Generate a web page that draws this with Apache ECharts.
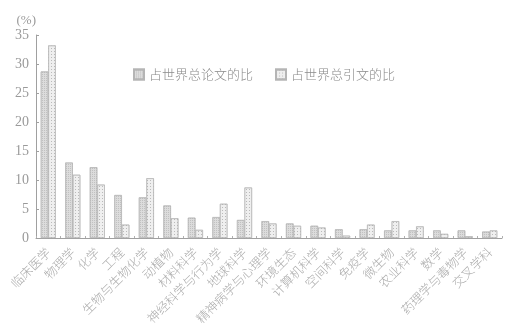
<!DOCTYPE html>
<html><head><meta charset="utf-8">
<script src="https://cdn.jsdelivr.net/npm/echarts@6/dist/echarts.min.js"></script>
<style>html,body{margin:0;padding:0;background:#fff}#c{width:522px;height:331px}</style>
</head><body><div id="c"></div>
<script>
var categories = ['临床医学','物理学','化学','工程','生物与生物化学','动植物','材料科学','神经科学与行为学','地球科学','精神病学与心理学','环境生态','计算机科学','空间科学','免疫学','微生物','农业科学','数学','药理学与毒物学','交叉学科'];
var seriesNames = ['占世界总论文的比','占世界总引文的比'];
var paperShare = [28.7,13.0,12.2,7.4,7.0,5.6,3.5,3.6,3.1,2.9,2.5,2.1,1.5,1.5,1.3,1.3,1.3,1.3,1.1];
var citeShare = [33.2,10.9,9.2,2.3,10.3,3.4,1.4,5.9,8.7,2.5,2.1,1.8,0.4,2.3,2.9,2.0,0.7,0.3,1.3];
var yTicks = [0,5,10,15,20,25,30,35];

var chart = echarts.init(document.getElementById('c'));
var gray = '#9a9a9a';
var serif = '"Liberation Serif","DejaVu Serif",serif';
var cjk = '"Noto Sans CJK SC","Noto Sans",sans-serif';
chart.setOption({
  animation: false,
  backgroundColor: '#fff',
  grid: {left: 36, right: 20, top: 35, bottom: 93, containLabel: false},
  legend: {
    left: 128, top: 63, itemWidth: 10, itemHeight: 10, itemGap: 22, icon: 'rect',
    textStyle: {color: '#8a8a8a', fontSize: 13, fontFamily: cjk, fontWeight: 300},
    data: seriesNames
  },
  xAxis: {
    type: 'category', data: categories,
    axisLine: {lineStyle: {color: '#a0a0a0', width: 1}},
    axisTick: {show: true, inside: true, length: 2, lineStyle: {color: '#b0b0b0'}},
    axisLabel: {rotate: 45, interval: 0, margin: 12, color: '#ababab', fontSize: 12.5, fontFamily: cjk, fontWeight: 300}
  },
  yAxis: {
    type: 'value', min: yTicks[0], max: yTicks[yTicks.length-1], interval: 5,
    name: '(%)', nameLocation: 'end', nameGap: 8,
    nameTextStyle: {color: gray, fontSize: 13, fontFamily: serif, align: 'right', padding: [0, 0, 0, 0]},
    axisLine: {show: true, lineStyle: {color: '#a0a0a0', width: 1}},
    axisTick: {show: true, inside: true, length: 3, lineStyle: {color: '#a0a0a0'}},
    splitLine: {show: false},
    axisLabel: {color: gray, fontSize: 14, fontFamily: serif, margin: 7}
  },
  series: [
    {
      name: seriesNames[0], type: 'bar', data: paperShare, barWidth: 7.5, barGap: '0%',
      itemStyle: {color: '#dcdcdc', borderColor: '#b5b5b5', borderWidth: 0.6,
        decal: {symbol: 'rect', symbolSize: 1, dashArrayX: [1, 1], dashArrayY: [1, 1], color: 'rgba(160,160,160,0.45)'}}
    },
    {
      name: seriesNames[1], type: 'bar', data: citeShare, barWidth: 7.5,
      itemStyle: {color: '#efefef', borderColor: '#b5b5b5', borderWidth: 0.6,
        decal: {symbol: 'rect', symbolSize: 1, dashArrayX: [1, 2], dashArrayY: [1, 2], color: 'rgba(150,150,150,0.6)'}}
    }
  ]
});
</script></body></html>
